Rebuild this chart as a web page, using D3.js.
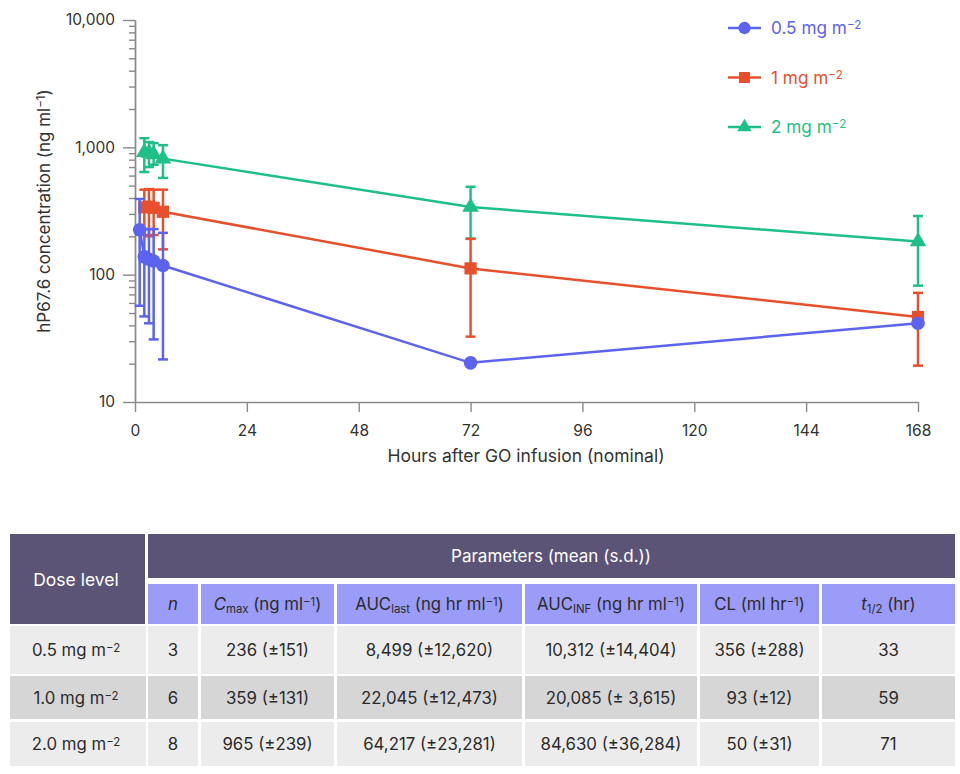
<!DOCTYPE html>
<html>
<head>
<meta charset="utf-8">
<script src="https://cdn.jsdelivr.net/npm/d3@7"></script>
<style>
  body { margin: 0; background: #fff; }
  svg { display: block; }
  text { font-family: Inter, Roboto, "Noto Sans", sans-serif; }
</style>
</head>
<body>
<svg id="chart" width="960" height="774"></svg>
<script>
// pharmacokinetic curves
const hours05 = [1, 2, 3, 4, 6, 72, 168]
const mean05 = [225, 138, 132, 128, 118, 20.3, 41.5]
const lo05 = [57, 47, 41.5, 31, 21.6, null, null]
const hi05 = [393, 228, 228, 228, 213, null, null]

const hours1 = [2, 3, 4, 6, 72, 168]
const mean1 = [338, 342, 335, 312, 112, 46.5]
const lo1 = [205, 200, 205, 158, 32.6, 19.3]
const hi1 = [465, 470, 465, 465, 191, 72]

const hours2 = [2, 3, 4, 6, 72, 168]
const mean2 = [915, 905, 880, 815, 340, 182]
const lo2 = [640, 700, 730, 575, 192, 82]
const hi2 = [1180, 1100, 1080, 1040, 490, 289]

const seriesNames = ['0.5 mg m', '1 mg m', '2 mg m']
const xTicks = [0, 24, 48, 72, 96, 120, 144, 168]
const yTicks = [10, 100, 1000, 10000]

// table
const doseLevels = ['0.5 mg m', '1.0 mg m', '2.0 mg m']
const nCounts = ['3', '6', '8']
const cmaxVals = ['236 (±151)', '359 (±131)', '965 (±239)']
const aucLastVals = ['8,499 (±12,620)', '22,045 (±12,473)', '64,217 (±23,281)']
const aucInfVals = ['10,312 (±14,404)', '20,085 (± 3,615)', '84,630 (±36,284)']
const clVals = ['356 (±288)', '93 (±12)', '50 (±31)']
const halfLives = ['33', '59', '71']

const colors = ['#5c63ee', '#e8502d', '#1fbf88']
const svg = d3.select('#chart')
const fs = 15.5, tfs = 16.8

let x = d3.scaleLinear().domain([0, 168]).range([135, 918])
let y = d3.scaleLog().domain([10, 10000]).range([402, 20])

// rich text helper: segments with sup/sub/italic
function rich(sel, segs, size) {
  segs.forEach(function(s) {
    let t = sel.append('tspan').text(s.t)
    if (s.it) t.style('font-style', 'italic')
    if (s.sup) t.attr('baseline-shift', '40%').attr('font-size', size * 0.68)
    if (s.sub) t.attr('baseline-shift', '-25%').attr('font-size', size * 0.68)
  })
}

// axes
let minor = []
yTicks.slice(0, 3).forEach(function(d) {
  for (let k = 2; k < 10; k++) minor.push(d * k)
})
let gyMinor = svg.append('g').attr('transform', 'translate(135,0)')
  .call(d3.axisLeft(y).tickValues(minor).tickSize(6).tickFormat('').tickSizeOuter(0))
let gy = svg.append('g').attr('transform', 'translate(135,0)')
  .call(d3.axisLeft(y).tickValues(yTicks).tickSize(12).tickPadding(8)
    .tickFormat(d3.format(',')).tickSizeOuter(0))
let gx = svg.append('g').attr('transform', 'translate(0,402)')
  .call(d3.axisBottom(x).tickValues(xTicks).tickSize(10).tickPadding(13).tickSizeOuter(0))

;[gyMinor, gy, gx].forEach(function(g) {
  g.selectAll('path, line').attr('stroke', '#8a8a8a').attr('stroke-width', 1.4)
  g.selectAll('text').attr('fill', '#333').attr('font-size', fs)
    .style('font-family', 'Inter, Roboto, sans-serif')
})

svg.append('text').attr('x', 526).attr('y', 462).attr('text-anchor', 'middle')
  .attr('font-size', 17.5).attr('fill', '#333').text('Hours after GO infusion (nominal)')

let yt = svg.append('text').attr('transform', 'translate(50,211) rotate(-90)')
  .attr('text-anchor', 'middle').attr('font-size', 17).attr('fill', '#333')
rich(yt, [{ t: 'hP67.6 concentration (ng ml' }, { t: '−1', sup: true }, { t: ')' }], 17)

// series
let series = [
  { h: hours2, m: mean2, lo: lo2, hi: hi2, c: colors[2], sym: d3.symbolTriangle, size: 120 },
  { h: hours1, m: mean1, lo: lo1, hi: hi1, c: colors[1], sym: d3.symbolSquare, size: 150 },
  { h: hours05, m: mean05, lo: lo05, hi: hi05, c: colors[0], sym: d3.symbolCircle, size: 145 },
]

let line = d3.line().x(function(d) { return x(d.h) }).y(function(d) { return y(d.m) })

series.forEach(function(s) {
  let pts = s.h.map(function(h, i) {
    return { h: h, m: s.m[i], lo: s.lo[i], hi: s.hi[i] }
  })
  let g = svg.append('g')
  g.append('path').attr('d', line(pts)).attr('fill', 'none')
    .attr('stroke', s.c).attr('stroke-width', 2.5)
  let eb = g.selectAll('.eb').data(pts.filter(function(d) { return d.lo != null }))
    .enter().append('g').attr('stroke', s.c).attr('stroke-width', 2.5)
  eb.append('line')
    .attr('x1', function(d) { return x(d.h) }).attr('x2', function(d) { return x(d.h) })
    .attr('y1', function(d) { return y(d.lo) }).attr('y2', function(d) { return y(d.hi) })
  eb.append('line')
    .attr('x1', function(d) { return x(d.h) - 5 }).attr('x2', function(d) { return x(d.h) + 5 })
    .attr('y1', function(d) { return y(d.lo) }).attr('y2', function(d) { return y(d.lo) })
  eb.append('line')
    .attr('x1', function(d) { return x(d.h) - 5 }).attr('x2', function(d) { return x(d.h) + 5 })
    .attr('y1', function(d) { return y(d.hi) }).attr('y2', function(d) { return y(d.hi) })
  g.selectAll('.pt').data(pts).enter().append('path')
    .attr('d', d3.symbol().type(s.sym).size(s.size))
    .attr('transform', function(d) { return 'translate(' + x(d.h) + ',' + y(d.m) + ')' })
    .attr('fill', s.c)
})

// legend
let legSyms = [d3.symbolCircle, d3.symbolSquare, d3.symbolTriangle]
let legSizes = [120, 120, 90]
seriesNames.forEach(function(name, i) {
  let ly = 28 + i * 49.5
  let g = svg.append('g').attr('transform', 'translate(0,' + ly + ')')
  g.append('line').attr('x1', 728).attr('x2', 761).attr('stroke', colors[i]).attr('stroke-width', 2.5)
  g.append('path').attr('d', d3.symbol().type(legSyms[i]).size(legSizes[i]))
    .attr('transform', 'translate(744.5,0)').attr('fill', colors[i])
  let t = g.append('text').attr('x', 771).attr('y', 6).attr('font-size', 17.2).attr('fill', colors[i])
  rich(t, [{ t: name }, { t: '−2', sup: true }], 17.2)
})

// table
const dark = '#5b5477', lilac = '#9a9cf7', grey1 = '#ececec', grey2 = '#d6d6d6'
let colEdges = [[148, 198], [201, 334], [337, 522], [525, 697], [700, 819], [822, 955]]
let headers = [
  [{ t: 'n', it: true }],
  [{ t: 'C', it: true }, { t: 'max', sub: true }, { t: ' (ng ml' }, { t: '−1', sup: true }, { t: ')' }],
  [{ t: 'AUC' }, { t: 'last', sub: true }, { t: ' (ng hr ml' }, { t: '−1', sup: true }, { t: ')' }],
  [{ t: 'AUC' }, { t: 'INF', sub: true }, { t: ' (ng hr ml' }, { t: '−1', sup: true }, { t: ')' }],
  [{ t: 'CL (ml hr' }, { t: '−1', sup: true }, { t: ')' }],
  [{ t: 't', it: true }, { t: '1/2', sub: true }, { t: ' (hr)' }],
]
let tbl = svg.append('g')
tbl.append('rect').attr('x', 10).attr('y', 534).attr('width', 135).attr('height', 90).attr('fill', dark)
tbl.append('rect').attr('x', 148).attr('y', 534).attr('width', 807).attr('height', 44).attr('fill', dark)
tbl.append('text').attr('x', 76).attr('y', 586).attr('text-anchor', 'middle')
  .attr('font-size', 17.5).attr('fill', '#fff').text('Dose level')
tbl.append('text').attr('x', 551).attr('y', 562).attr('text-anchor', 'middle')
  .attr('font-size', 17).attr('fill', '#fff').text('Parameters (mean (s.d.))')

colEdges.forEach(function(e, i) {
  tbl.append('rect').attr('x', e[0]).attr('y', 584).attr('width', e[1] - e[0]).attr('height', 40).attr('fill', lilac)
  let t = tbl.append('text').attr('x', (e[0] + e[1]) / 2).attr('y', 610)
    .attr('text-anchor', 'middle').attr('font-size', tfs).attr('fill', '#2b2b2b')
  rich(t, headers[i], tfs)
})

let rowTops = [626, 676, 722], rowH = [48, 43, 44]
let rowFill = [grey1, grey2, grey1]
let cols = [nCounts, cmaxVals, aucLastVals, aucInfVals, clVals, halfLives]
doseLevels.forEach(function(dose, r) {
  let top = rowTops[r], h = rowH[r], by = top + h / 2 + 6
  tbl.append('rect').attr('x', 10).attr('y', top).attr('width', 136).attr('height', h).attr('fill', rowFill[r])
  let dt = tbl.append('text').attr('x', 76).attr('y', by).attr('text-anchor', 'middle')
    .attr('font-size', tfs).attr('fill', '#2b2b2b')
  rich(dt, [{ t: dose }, { t: '−2', sup: true }], tfs)
  colEdges.forEach(function(e, c) {
    tbl.append('rect').attr('x', e[0]).attr('y', top).attr('width', e[1] - e[0]).attr('height', h).attr('fill', rowFill[r])
    tbl.append('text').attr('x', (e[0] + e[1]) / 2).attr('y', by).attr('text-anchor', 'middle')
      .attr('font-size', tfs).attr('fill', '#2b2b2b').text(cols[c][r])
  })
})
</script>
</body>
</html>
